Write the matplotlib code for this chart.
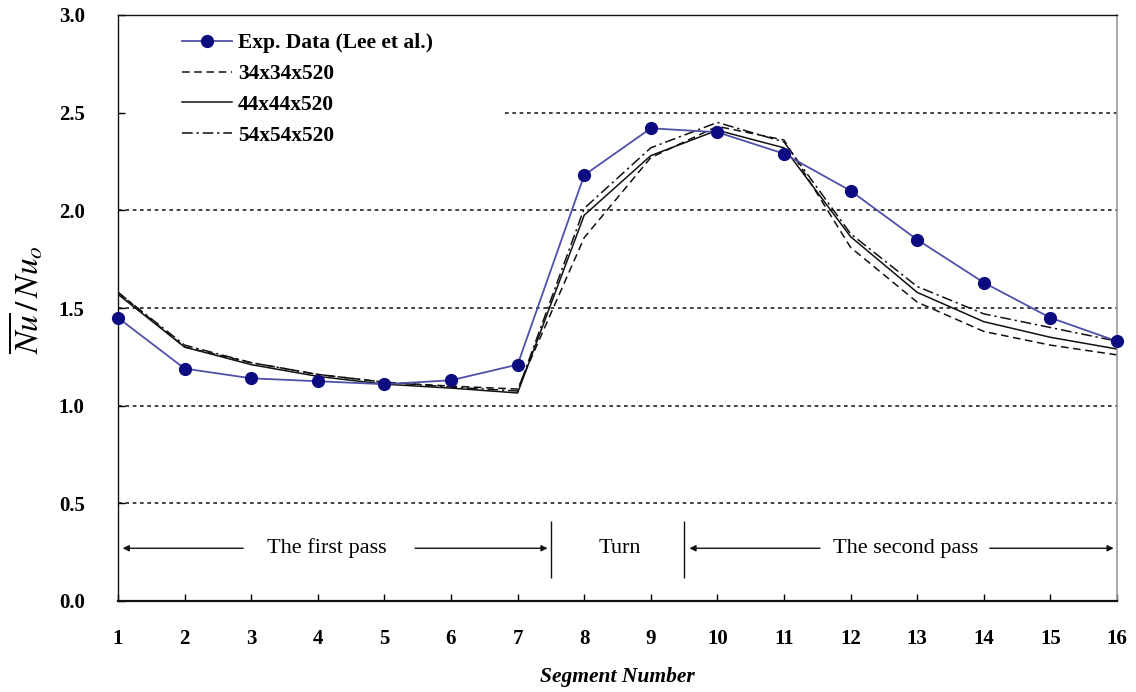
import matplotlib
matplotlib.use("Agg")
import matplotlib.pyplot as plt

segments = list(range(1, 17))
exp_data = [1.45, 1.19, 1.14, 1.125, 1.11, 1.13, 1.21, 2.18, 2.42, 2.40, 2.29, 2.10, 1.85, 1.63, 1.45, 1.33]
mesh34 = [1.58, 1.30, 1.22, 1.16, 1.12, 1.10, 1.085, 1.86, 2.27, 2.43, 2.36, 1.81, 1.53, 1.38, 1.31, 1.26]
mesh44 = [1.57, 1.30, 1.21, 1.15, 1.11, 1.09, 1.065, 1.975, 2.28, 2.41, 2.32, 1.865, 1.58, 1.43, 1.35, 1.29]
mesh54 = [1.58, 1.31, 1.22, 1.16, 1.12, 1.095, 1.075, 2.01, 2.32, 2.45, 2.35, 1.88, 1.61, 1.47, 1.40, 1.33]
labels = ["Exp. Data (Lee et al.)", "34x34x520", "44x44x520", "54x54x520"]
grid_values = [0.5, 1.0, 1.5, 2.0, 2.5]
grid_starts = [1, 1, 1, 1, 6.81]
yticks = [0.0, 0.5, 1.0, 1.5, 2.0, 2.5, 3.0]

plt.rcParams['font.family'] = ['Liberation Serif', 'DejaVu Serif']
plt.rcParams['mathtext.fontset'] = 'stix'

fig = plt.figure(figsize=(11.36, 6.92), dpi=100)
ax = fig.add_axes([118/1136, 1-601/692, 999/1136, 586/692])

for gv, gs in zip(grid_values, grid_starts):
    ax.hlines(gv, gs, 16, colors='#222222', linestyles=(0, (2.2, 2.2)), linewidth=1.2, zorder=1)

l34, = ax.plot(segments, mesh34, color='#111111', lw=1.1, linestyle=(0, (5, 3)), zorder=2)
l44, = ax.plot(segments, mesh44, color='#111111', lw=1.1, linestyle='-', zorder=2)
l54, = ax.plot(segments, mesh54, color='#111111', lw=1.1, linestyle=(0, (7, 2.5, 1.5, 2.5)), zorder=2)
lexp, = ax.plot(segments, exp_data, color='#5050a8', lw=1.3, marker='o', markersize=8.5,
                markerfacecolor='#0c0c80', markeredgecolor='#0c0c80', zorder=3, clip_on=False)

ax.set_xlim(1, 16)
ax.set_ylim(0, 3.0)
ax.set_xticks(segments)
ax.set_xticklabels([str(s) for s in segments], fontsize=15, fontweight='bold')
ax.set_yticks(yticks)
ax.set_yticklabels([f"{v:.1f}" for v in yticks], fontsize=15, fontweight='bold')
ax.tick_params(axis='x', direction='in', length=5, width=1, pad=20)
ax.tick_params(axis='y', direction='in', length=5, width=1, pad=24)

for s in ['left', 'top']:
    ax.spines[s].set_color('#111111')
    ax.spines[s].set_linewidth(1.0)
ax.spines['bottom'].set_linewidth(1.6)
ax.spines['bottom'].set_color('#111111')
ax.spines['right'].set_color('#999999')
ax.spines['right'].set_linewidth(1.2)

ax.set_xlabel("Segment Number", fontsize=15.5, fontweight='bold', fontstyle='italic', labelpad=13)
ax.set_ylabel(r"$\overline{Nu}\,/\,Nu_o$", fontsize=24)
ax.yaxis.set_label_coords(-0.073, 0.514)

leg = ax.legend([lexp, l34, l44, l54], labels, loc='upper left', bbox_to_anchor=(0.064, 0.969),
                frameon=False, borderpad=0, borderaxespad=0, handlelength=2.33, handletextpad=0.28,
                labelspacing=0.5, prop={'weight': 'bold', 'size': 15.5})

# region annotations
yt = 0.27
ax.vlines([7.5, 9.5], 0.12, 0.41, colors='#111111', lw=1.0)
ax.text(4.14, yt, "The first pass", ha='center', va='center', fontsize=16)
ax.text(8.54, yt, "Turn", ha='center', va='center', fontsize=16)
ax.text(12.82, yt, "The second pass", ha='center', va='center', fontsize=16)
arrow_kw = dict(arrowstyle='-|>', color='#111111', lw=1.0, mutation_scale=9, shrinkA=0, shrinkB=0)
ax.annotate("", xy=(1.07, yt), xytext=(2.88, yt), arrowprops=arrow_kw)
ax.annotate("", xy=(7.45, yt), xytext=(5.46, yt), arrowprops=arrow_kw)
ax.annotate("", xy=(9.58, yt), xytext=(11.54, yt), arrowprops=arrow_kw)
ax.annotate("", xy=(15.95, yt), xytext=(14.09, yt), arrowprops=arrow_kw)

fig.savefig("out.png", dpi=100)
